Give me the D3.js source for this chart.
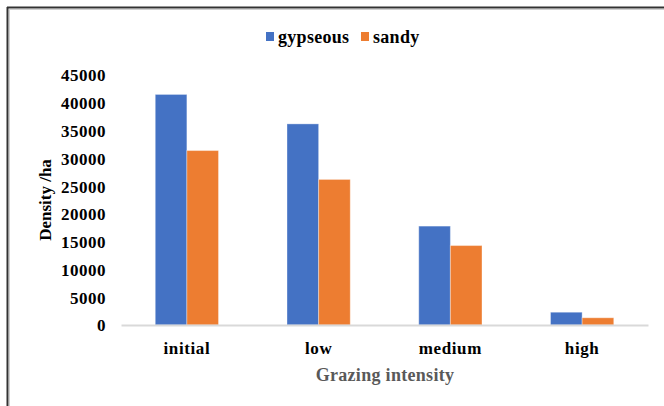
<!DOCTYPE html>
<html>
<head>
<meta charset="utf-8">
<script src="https://cdn.jsdelivr.net/npm/d3@7"></script>
<style>
  html, body { margin: 0; padding: 0; background: #fff; }
  svg { display: block; }
</style>
</head>
<body>
<svg id="chart" width="664" height="406"></svg>
<script>
const categories = ["initial", "low", "medium", "high"];
const seriesNames = ["gypseous", "sandy"];
const gypseous = [41500, 36200, 17800, 2300];
const sandy = [31400, 26200, 14300, 1300];
const yTicks = [0, 5000, 10000, 15000, 20000, 25000, 30000, 35000, 40000, 45000];
const colors = ["#4472C4", "#ED7D31"];

const FONT = "'Liberation Serif', 'Times New Roman', serif";
function serif(sel, size, fill) {
  return sel.style("font-family", FONT).style("font-weight", "bold")
    .style("font-size", size + "px").attr("fill", fill);
}

const svg = d3.select("#chart");
const W = 664, H = 406;
svg.append("rect").attr("width", W).attr("height", H).attr("fill", "#fff");

// frame (top and left edges visible)
svg.append("line").attr("x1", 7).attr("x2", W).attr("y1", 7.5).attr("y2", 7.5).attr("stroke", "#333").attr("stroke-width", 2);
svg.append("line").attr("x1", 9).attr("x2", W).attr("y1", 9.5).attr("y2", 9.5).attr("stroke", "#d0d0d0").attr("stroke-width", 1);
svg.append("line").attr("x1", 7.5).attr("x2", 7.5).attr("y1", 7).attr("y2", H).attr("stroke", "#333").attr("stroke-width", 2);
svg.append("line").attr("x1", 9.5).attr("x2", 9.5).attr("y1", 9).attr("y2", H).attr("stroke", "#d0d0d0").attr("stroke-width", 1);

const x0 = d3.scaleBand().domain(categories).range([121, 648]).paddingInner(0.52).paddingOuter(0.26);
const x1 = d3.scaleBand().domain(seriesNames).range([0, x0.bandwidth()]);
const y = d3.scaleLinear().domain([0, 45000]).range([325, 75]);

// y axis labels
const yAxis = d3.axisLeft(y).tickValues(yTicks).tickSize(0).tickPadding(0).tickFormat(d3.format("d"));
const gy = svg.append("g").attr("transform", "translate(106,0)").call(yAxis);
gy.select(".domain").remove();
serif(gy.selectAll("text"), 17, "#000").attr("dy", "0.35em").attr("letter-spacing", "0.5px");

// bars
const data = categories.map((c, i) => ({ c, vals: [gypseous[i], sandy[i]] }));
const groups = svg.append("g").selectAll("g").data(data).join("g")
  .attr("transform", d => `translate(${x0(d.c)},0)`);
groups.selectAll("rect").data(d => d.vals.map((v, j) => ({ v, s: seriesNames[j], j })))
  .join("rect")
  .attr("x", d => x1(d.s))
  .attr("width", x1.bandwidth())
  .attr("y", d => y(d.v))
  .attr("height", d => y(0) - y(d.v))
  .attr("fill", d => colors[d.j])
  .attr("stroke", "rgba(255,255,255,0.35)")
  .attr("stroke-width", 1);

// x axis
const xAxis = d3.axisBottom(x0).tickSize(0).tickPadding(0);
const gx = svg.append("g").attr("transform", "translate(0,325)").call(xAxis);
gx.select(".domain").attr("stroke", "#d9d9d9").attr("stroke-width", 2);
serif(gx.selectAll("text"), 17, "#000").attr("y", 23).attr("dy", "0.35em").attr("letter-spacing", "0.6px");

// axis titles
serif(svg.append("text"), 18, "#595959").attr("x", 385).attr("y", 381).attr("text-anchor", "middle")
  .attr("letter-spacing", "0.3px").text("Grazing intensity");
serif(svg.append("text"), 17, "#000").attr("transform", "translate(51,200) rotate(-90)").attr("text-anchor", "middle")
  .text("Density /ha");

// legend
const legend = svg.append("g");
const legendItems = [
  { name: seriesNames[0], color: colors[0], x: 266 },
  { name: seriesNames[1], color: colors[1], x: 361 }
];
legendItems.forEach(it => {
  legend.append("rect").attr("x", it.x).attr("y", 32).attr("width", 8).attr("height", 9).attr("fill", it.color);
  serif(legend.append("text"), 18, "#000").attr("x", it.x + 12).attr("y", 37).attr("dy", "0.35em")
    .attr("letter-spacing", "0.3px").text(it.name);
});
</script>
</body>
</html>
